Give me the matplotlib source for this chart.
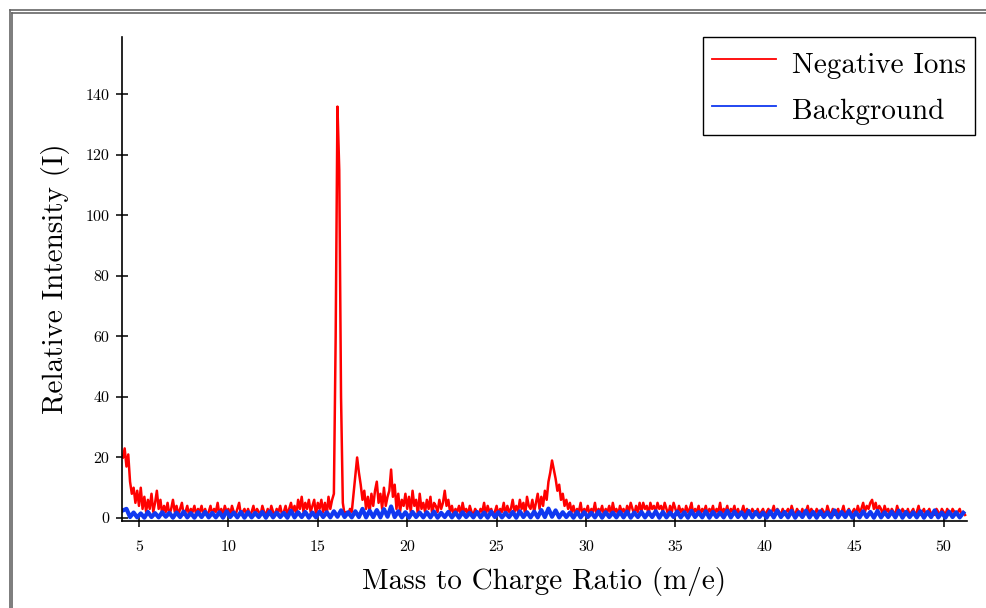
"""
Negative ion mass spectrum compared with the background signal.
"""

import matplotlib

matplotlib.use("Agg")
import matplotlib.pyplot as plt
import numpy as np
from matplotlib.lines import Line2D

# red trace, sampled every 0.1 m/e starting at 4.1 (one row per unit)
MZ_START = 4.1
ION_STEP = 0.1
ion_rows = [
    [20, 23, 17, 21, 12, 8, 10, 5, 9, 4],
    [10, 3, 7, 2, 6, 3, 8, 2, 5, 9],
    [3, 6, 1, 4, 2, 5, 1, 3, 6, 2],
    [4, 1, 3, 5, 1, 2, 4, 1, 3, 2],
    [4, 1, 3, 2, 4, 1, 3, 1, 2, 4],
    [1, 3, 2, 5, 1, 3, 1, 4, 2, 3],
    [1, 4, 2, 1, 3, 5, 1, 2, 3, 1],
    [3, 1, 2, 4, 1, 3, 2, 1, 4, 2],
    [1, 3, 1, 4, 2, 1, 3, 2, 4, 1],
    [2, 4, 1, 3, 5, 2, 4, 1, 6, 3],
    [7, 2, 5, 3, 6, 2, 4, 6, 1, 5],
    [3, 6, 2, 5, 1, 7, 3, 6, 8, 60],
    [136, 115, 40, 5, 1, 2, 1, 3, 2, 8],
    [14, 20, 15, 11, 6, 9, 3, 7, 2, 8],
    [4, 9, 12, 5, 8, 3, 10, 4, 7, 9],
    [16, 7, 11, 3, 8, 2, 6, 4, 8, 3],
    [7, 2, 9, 4, 6, 1, 8, 3, 5, 2],
    [6, 3, 7, 1, 5, 4, 2, 6, 3, 5],
    [9, 4, 6, 2, 4, 1, 3, 2, 4, 1],
    [5, 2, 3, 1, 4, 2, 1, 3, 2, 1],
    [3, 2, 5, 1, 4, 2, 3, 1, 2, 4],
    [1, 3, 2, 5, 1, 4, 2, 3, 6, 2],
    [4, 2, 6, 3, 5, 1, 7, 4, 3, 6],
    [2, 5, 8, 3, 7, 4, 9, 6, 12, 15],
    [19, 16, 13, 9, 11, 6, 8, 4, 6, 3],
    [5, 2, 4, 1, 3, 2, 5, 1, 3, 2],
    [4, 1, 3, 2, 5, 1, 3, 2, 4, 1],
    [3, 2, 4, 1, 5, 2, 3, 1, 4, 2],
    [3, 1, 4, 2, 5, 3, 1, 4, 2, 5],
    [2, 5, 3, 4, 1, 5, 3, 4, 2, 5],
    [3, 4, 2, 5, 3, 1, 4, 2, 5, 3],
    [1, 4, 2, 3, 1, 4, 2, 3, 5, 1],
    [3, 2, 4, 1, 3, 2, 4, 1, 3, 2],
    [4, 1, 3, 2, 5, 1, 3, 2, 4, 1],
    [3, 2, 4, 1, 3, 1, 2, 4, 1, 3],
    [2, 1, 3, 2, 1, 3, 1, 2, 3, 1],
    [2, 3, 1, 2, 4, 1, 3, 2, 1, 3],
    [1, 2, 3, 1, 4, 2, 1, 3, 2, 1],
    [3, 1, 2, 4, 1, 3, 2, 1, 3, 2],
    [1, 3, 2, 1, 4, 2, 1, 3, 1, 2],
    [3, 1, 2, 4, 1, 2, 3, 1, 2, 3],
    [1, 4, 2, 3, 5, 2, 4, 3, 5, 6],
    [3, 5, 2, 4, 3, 1, 4, 2, 3, 1],
    [3, 2, 1, 4, 2, 1, 3, 2, 1, 3],
    [1, 2, 3, 1, 2, 4, 1, 2, 3, 1],
    [2, 3, 1, 2, 1, 3, 2, 1, 3, 2],
    [1, 3, 2, 1, 3, 2, 1, 2, 3, 1],
    [2, 1],
]

# blue trace, sampled every 0.2 m/e starting at 4.1
BG_STEP = 0.2
bg_rows = [
    [2.5, 3, 0.3, 1.8, 0.2],
    [1.5, 0.1, 2, 0.3, 1.6],
    [0.2, 1.9, 0.4, 1.7, 0.1],
    [1.8, 0.3, 2.1, 0.2, 1.6],
    [0.1, 1.9, 0.3, 2, 0.2],
    [1.7, 0.2, 1.9, 0.1, 2.2],
    [0.3, 1.8, 0.2, 2, 0.1],
    [1.9, 0.2, 1.7, 0.3, 2],
    [0.1, 2.1, 0.2, 1.8, 0.3],
    [1.7, 0.1, 2.4, 0.2, 1.9],
    [0.3, 2, 0.1, 1.8, 0.2],
    [2.1, 0.3, 1.9, 0.2, 2.2],
    [0.4, 2.5, 0.3, 1.9, 0.2],
    [2.2, 0.3, 3, 0.2, 2.4],
    [0.3, 2.6, 0.2, 2.9, 0.4],
    [3.8, 0.3, 2.2, 0.2, 1.9],
    [0.1, 2, 0.3, 1.8, 0.2],
    [1.9, 0.2, 2.1, 0.1, 1.7],
    [0.3, 2, 0.2, 1.8, 0.1],
    [1.9, 0.3, 1.7, 0.2, 2],
    [0.2, 1.8, 0.1, 2.1, 0.3],
    [1.9, 0.2, 1.7, 0.3, 2],
    [0.1, 2.2, 0.3, 1.9, 0.2],
    [2.1, 0.2, 2.6, 0.3, 3.1],
    [0.4, 2.5, 0.2, 1.9, 0.3],
    [1.8, 0.1, 2, 0.2, 1.9],
    [0.3, 1.7, 0.2, 2.1, 0.1],
    [1.9, 0.3, 1.8, 0.2, 2],
    [0.2, 2.1, 0.1, 1.8, 0.3],
    [2, 0.2, 1.9, 0.3, 2.2],
    [0.1, 2, 0.2, 1.8, 0.3],
    [2.1, 0.2, 1.9, 0.1, 2.3],
    [0.3, 1.9, 0.2, 2.2, 0.1],
    [2, 0.3, 1.8, 0.2, 2.4],
    [0.2, 2.1, 0.3, 1.9, 0.1],
    [2.3, 0.2, 2, 0.3, 1.8],
    [0.1, 2.2, 0.2, 2.5, 0.3],
    [2, 0.2, 2.3, 0.1, 1.9],
    [0.3, 2.4, 0.2, 2, 0.1],
    [2.2, 0.3, 1.9, 0.2, 2.5],
    [0.2, 2, 0.3, 2.3, 0.1],
    [1.9, 0.2, 2.2, 0.3, 2],
    [0.1, 2.3, 0.2, 1.9, 0.3],
    [2.1, 0.2, 2.4, 0.1, 2],
    [0.3, 1.9, 0.2, 2.2, 0.1],
    [2, 0.3, 2.5, 0.2, 1.8],
    [0.1, 2.1, 0.3, 1.9, 0.2],
    [1.7],
]

x_ticks = [5, 10, 15, 20, 25, 30, 35, 40, 45, 50]
y_ticks = [0, 20, 40, 60, 80, 100, 120, 140]


def main() -> None:
    plt.rcParams["font.family"] = "cmr10"
    plt.rcParams["mathtext.fontset"] = "cm"
    plt.rcParams["axes.unicode_minus"] = False

    ion = np.concatenate([np.array(r, dtype=float) for r in ion_rows])
    bg = np.concatenate([np.array(r, dtype=float) for r in bg_rows])
    x_ion = MZ_START + ION_STEP * np.arange(len(ion))
    x_bg = MZ_START + BG_STEP * np.arange(len(bg))

    fig = plt.figure(figsize=(9.87, 6.08), dpi=100)
    ax = fig.add_axes([0.1236, 0.1431, 0.856, 0.796])

    ax.plot(x_ion, ion, color="#ff0000", linewidth=1.8, label="Negative Ions")
    ax.plot(x_bg, bg, color="#1038f0", linewidth=3.0, label="Background")

    ax.set_xlim(4.05, 51.3)
    ax.set_ylim(-1, 159)
    ax.set_xticks(x_ticks)
    ax.set_yticks(y_ticks)

    for side in ("top", "right"):
        ax.spines[side].set_visible(False)
    for side in ("left", "bottom"):
        ax.spines[side].set_linewidth(1.2)

    ax.tick_params(axis="y", direction="inout", length=8, width=1.1,
                   labelsize=11.5, pad=5)
    ax.tick_params(axis="x", direction="inout", length=8, width=1.1,
                   labelsize=11.5, pad=10)

    ax.set_xlabel("Mass to Charge Ratio (m/e)", fontsize=21, labelpad=9)
    ax.set_ylabel("Relative Intensity (I)", fontsize=21, labelpad=11)

    leg = ax.legend(
        loc="upper right",
        bbox_to_anchor=(975 / 987, 1 - 37 / 608),
        bbox_transform=fig.transFigure,
        fontsize=21,
        frameon=True,
        fancybox=False,
        framealpha=1,
        edgecolor="black",
        handlelength=2.2,
        handleheight=1.45,
        handletextpad=0.55,
        labelspacing=0.4,
        borderpad=0.3,
        borderaxespad=0,
    )
    leg.get_frame().set_linewidth(1.0)
    for handle in leg.get_lines():
        handle.set_linewidth(1.3)

    # double frame line along the top and left edges of the page
    for off in (9.5, 12.5):
        fig.add_artist(Line2D([off / 987, 1], [1 - off / 608] * 2,
                              transform=fig.transFigure, color="#666666",
                              linewidth=1.2))
        fig.add_artist(Line2D([off / 987] * 2, [0, 1 - off / 608],
                              transform=fig.transFigure, color="#666666",
                              linewidth=1.2))

    fig.savefig("out.png", dpi=100)


if __name__ == "__main__":
    main()
